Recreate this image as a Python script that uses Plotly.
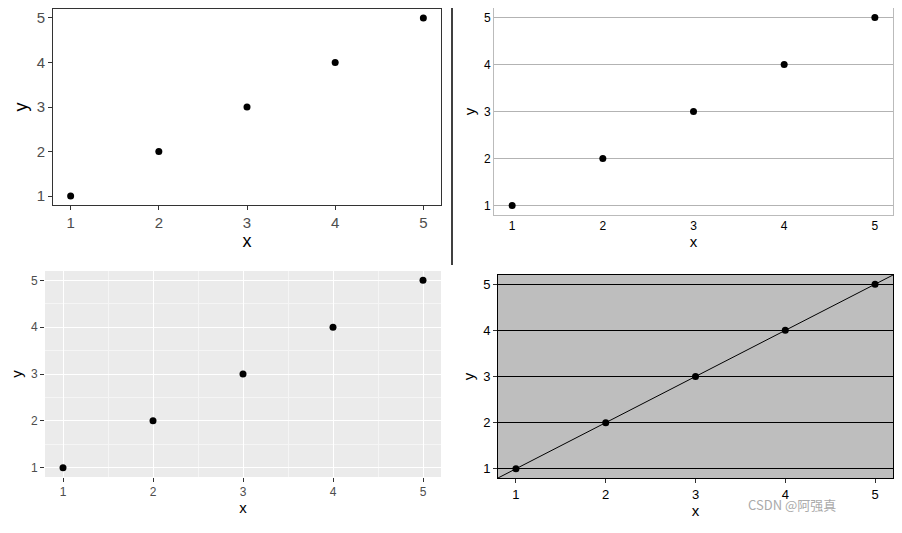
import plotly.graph_objects as go

x = [1, 2, 3, 4, 5]
y = [1, 2, 3, 4, 5]
ticks = [1, 2, 3, 4, 5]
OFF = 8
W, H = 902 - 2 * OFF, 533 - 2 * OFF

fig = go.Figure()
def px(v): return (v - OFF) / W
def py(v): return 1 - (v - OFF) / H
def dom(x0, x1, y0, y1):
    return dict(x=[px(x0), px(x1)], y=[py(y1), py(y0)])

panels = [
    dict(d=dom(53, 441, 9, 205), bg="white", line="#333333", grid=None, minor=False,
         tc="#4D4D4D", ts=15, tt=18, ticks="outside"),
    dict(d=dom(494, 893, 8, 215), bg="white", line="#BBBBBB", grid="#B3B3B3", minor=False,
         tc="black", ts=12, tt=15, ticks=""),
    dict(d=dom(45, 441, 271, 477), bg="#EBEBEB", line=None, grid="white", minor=True,
         tc="#4D4D4D", ts=12, tt=15, ticks="outside"),
    dict(d=dom(498, 893, 275, 478), bg="#BEBEBE", line="black", grid="black", minor=False,
         tc="black", ts=13, tt=15, ticks="outside"),
]

font = "Liberation Sans, Arial, sans-serif"
for i, p in enumerate(panels, start=1):
    sx = "" if i == 1 else str(i)
    fig.add_trace(go.Scatter(x=x, y=y, mode="markers", marker=dict(color="black", size=7),
                             xaxis="x" + sx, yaxis="y" + sx, showlegend=False))
    if i == 4:
        fig.add_trace(go.Scatter(x=[0.8, 5.2], y=[0.8, 5.2], mode="lines",
                                 line=dict(color="black", width=1), xaxis="x4", yaxis="y4",
                                 showlegend=False))
    common = dict(range=[0.8, 5.2], tickvals=ticks, zeroline=False,
                  tickfont=dict(color=p["tc"], size=p["ts"], family=font),
                  showline=p["line"] is not None, linecolor=p["line"] or "black", linewidth=1,
                  mirror=True, ticks=p["ticks"], ticklen=4, tickcolor="#333333")
    xa = dict(common, domain=p["d"]["x"], anchor="y" + sx,
              title=dict(text="x", font=dict(size=p["tt"], color="black", family=font), standoff=4),
              showgrid=p["grid"] is not None and i == 3, gridcolor=p["grid"] or "white")
    ya = dict(common, domain=p["d"]["y"], anchor="x" + sx,
              title=dict(text="y", font=dict(size=p["tt"], color="black", family=font), standoff=4),
              showgrid=p["grid"] is not None, gridcolor=p["grid"] or "white")
    if p["minor"]:
        xa["minor"] = dict(tickvals=[1.5, 2.5, 3.5, 4.5], showgrid=True, gridcolor="#F5F5F5")
        ya["minor"] = dict(tickvals=[1.5, 2.5, 3.5, 4.5], showgrid=True, gridcolor="#F5F5F5")
    fig.layout["xaxis" + sx] = xa
    fig.layout["yaxis" + sx] = ya
    d = p["d"]
    fig.add_shape(type="rect", xref="paper", yref="paper", x0=d["x"][0], x1=d["x"][1],
                  y0=d["y"][0], y1=d["y"][1], fillcolor=p["bg"], line_width=0, layer="below")

# frame around top-right panel
fig.add_shape(type="line", xref="paper", yref="paper", x0=px(452), x1=px(452), y0=py(265), y1=py(0),
              line=dict(color="black", width=1.5))
fig.add_shape(type="line", xref="paper", yref="paper", x0=px(452), x1=px(902), y0=py(1), y1=py(1),
              line=dict(color="black", width=1.5))

fig.add_annotation(text="CSDN @阿强真", xref="paper", yref="paper", x=px(838), y=py(516),
                   showarrow=False, font=dict(size=13, color="#AAAAAA", family="Noto Sans CJK SC"))

fig.update_layout(width=W, height=H, margin=dict(l=0, r=0, t=0, b=0),
                  paper_bgcolor="white", plot_bgcolor="rgba(0,0,0,0)", font=dict(family=font))
fig.write_html("out.html")
